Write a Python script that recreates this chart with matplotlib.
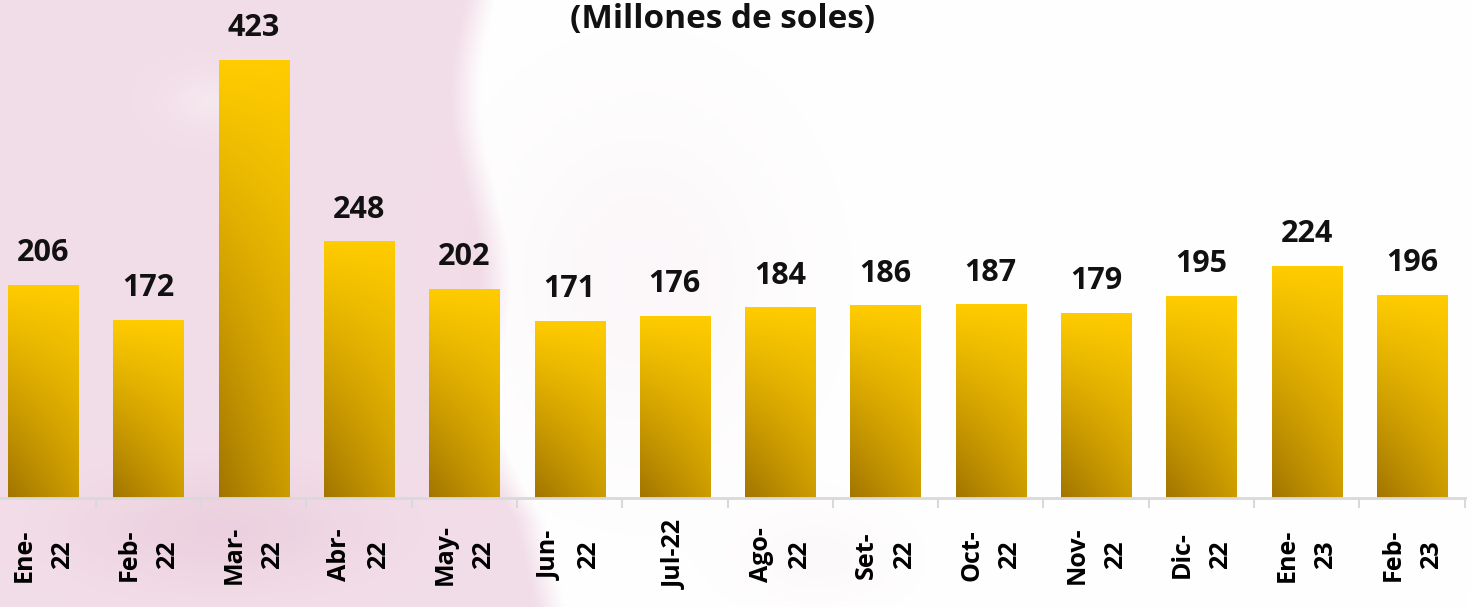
import numpy as np
import matplotlib
matplotlib.use("Agg")
import matplotlib.pyplot as plt

# Datos
etiquetas = ["Ene-\n22", "Feb-\n22", "Mar-\n22", "Abr-\n22", "May-\n22", "Jun-\n22", "Jul-22",
             "Ago-\n22", "Set-\n22", "Oct-\n22", "Nov-\n22", "Dic-\n22", "Ene-\n23", "Feb-\n23"]
valores = [206, 172, 423, 248, 202, 171, 176, 184, 186, 187, 179, 195, 224, 196]

plt.rcParams['font.family'] = ['Open Sans', 'DejaVu Sans']

fig = plt.figure(figsize=(14.72, 6.07), dpi=100)

# Fondo tipo acuarela rosada (decorativo)
ax_bg = fig.add_axes([0, 0, 1, 1], zorder=0)
ny, nx = 150, 370
gx, gy = np.meshgrid(np.linspace(0, 1472, nx), np.linspace(0, 607, ny))
borde = 495 - 15 * np.sin(gy / 60) + 60 * np.clip((gy - 400) / 120, 0, 1)
inten = 0.40 * np.clip((borde - gx) / 30, 0, 1)
inten += 0.16 * np.exp(-(((gx - 220) / 140) ** 2 + ((gy - 530) / 55) ** 2))
inten += 0.09 * np.exp(-(((gx - 640) / 150) ** 2 + ((gy - 280) / 180) ** 2))
inten += 0.07 * np.exp(-(((gx - 820) / 80) ** 2 + ((gy - 560) / 50) ** 2))
inten -= 0.12 * np.exp(-(((gx - 210) / 40) ** 2 + ((gy - 100) / 25) ** 2))
inten = np.clip(inten, 0, 0.7)
rosa = np.array([222, 172, 198]) / 255
fondo = 1 - inten[..., None] * (1 - rosa)
ax_bg.imshow(fondo, extent=[0, 1472, 607, 0], aspect='auto', interpolation='bilinear')
ax_bg.axis('off')

# Grafico principal
ax = fig.add_axes([0, 109 / 607, 1, 498 / 607], zorder=1)
ax.patch.set_alpha(0)

# degradado de las barras: amarillo arriba, dorado oscuro abajo a la izquierda
r, c = np.meshgrid(np.linspace(0, 1, 64), np.linspace(0, 1, 64), indexing='ij')
d = r * (1 - 0.45 * c)
arriba = np.array([255, 204, 0]) / 255
abajo = np.array([162, 117, 0]) / 255
grad = arriba + (abajo - arriba) * d[..., None]

x = np.arange(len(valores))
ancho = 0.665
barras = ax.bar(x, valores, width=ancho, color='none', edgecolor='none')
for b, v in zip(barras, valores):
    img = ax.imshow(grad, extent=[b.get_x(), b.get_x() + b.get_width(), 0, v],
                    aspect='auto', zorder=2, interpolation='bilinear')
    img.set_clip_path(b)
    ax.annotate(str(v), (b.get_x() + b.get_width() / 2, v), xytext=(0, 17),
                textcoords='offset points', ha='center', va='baseline',
                fontsize=22, fontweight='bold', color='#111111')

# Ejes
for s in ['top', 'right', 'left']:
    ax.spines[s].set_visible(False)
ax.spines['bottom'].set_color('#d9d9d9')
ax.spines['bottom'].set_linewidth(2)
ax.spines['bottom'].set_bounds(-0.5, 13.5)
ax.set_yticks([])
ax.set_xticks(x)
ax.set_xticklabels(etiquetas, rotation=90, rotation_mode='anchor', ha='center', va='center',
                   multialignment='center', fontsize=18, fontweight='bold', linespacing=1.7)
ax.tick_params(axis='x', which='major', length=0, pad=41)
ax.set_xticks(np.arange(-0.5, 14, 1), minor=True)
ax.tick_params(axis='x', which='minor', length=7, width=1.5, color='#d9d9d9')

ax.set_xlim(-0.409, 13.57)
ax.set_ylim(0, 481)

# Titulo
fig.text(723 / 1472, 1 - 28 / 607, "(Millones de soles)", ha='center', va='baseline',
         fontsize=24, fontweight='bold', color='#111111')

fig.savefig('out.png', dpi=100)
